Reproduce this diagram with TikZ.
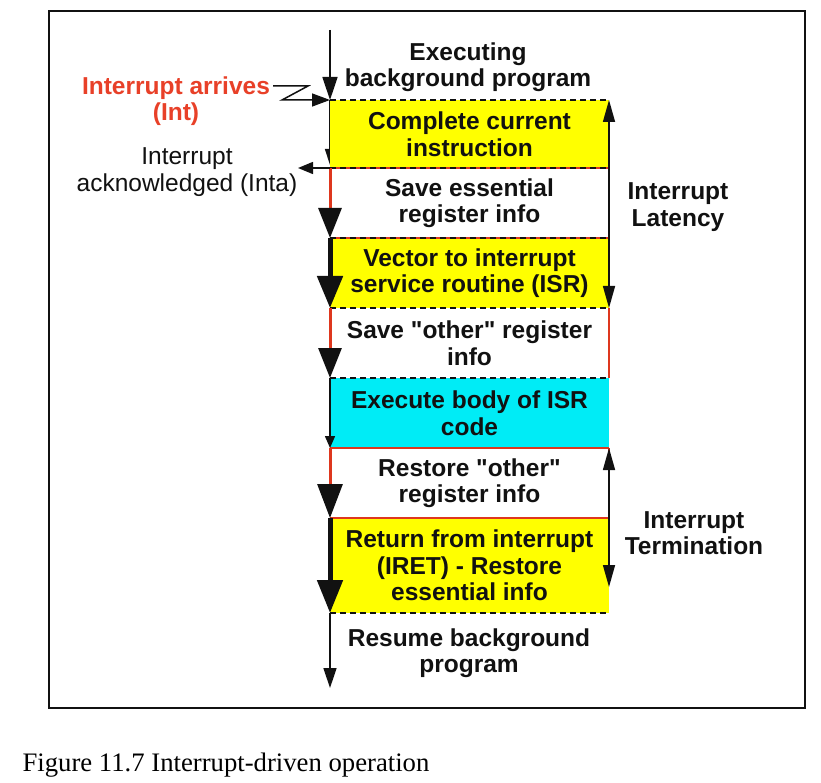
\documentclass[tikz,border=0pt]{standalone}
\usepackage{fontspec}
\setmainfont{Liberation Sans}
\newfontfamily\capfont{Liberation Serif}
\usetikzlibrary{arrows.meta}
\definecolor{myyellow}{RGB}{255,255,0}
\definecolor{mycyan}{RGB}{0,236,246}
\definecolor{myred}{RGB}{222,55,30}
\definecolor{txtred}{RGB}{232,64,40}
\definecolor{ink}{RGB}{17,17,17}
\pgfdeclarelayer{bg}
\pgfsetlayers{bg,main}
\begin{document}
\begin{tikzpicture}[x=1pt,y=-1pt,
  lbl/.style={font=\fontsize{24.5}{26.5}\selectfont\bfseries, align=center, text=ink, inner sep=0pt},
  plainlbl/.style={font=\fontsize{24.5}{26.5}\selectfont, align=center, text=ink, inner sep=0pt},
  box/.style={lbl, minimum width=279pt, outer sep=0pt},
  dline/.style={line width=2pt, dash pattern=on 6pt off 4pt, ink},
  rline/.style={line width=2pt, myred},
  thin/.style={line width=1.5pt, ink},
  redarr/.style={line width=3pt, myred},
  thickarr/.style={line width=5pt, ink},
]
\useasboundingbox (0,0) rectangle (821,783);
\draw[line width=2pt, ink] (49,11) rectangle (805,708);

% boxes
\node[box, fill=myyellow, minimum height=68pt]  (b1) at (469.5,134) {Complete current\\instruction};
\node[box, minimum height=70pt]                 (b2) at (469.5,203) {Save essential\\register info};
\node[box, fill=myyellow, minimum height=70pt]  (b3) at (469.5,273) {Vector to interrupt\\service routine (ISR)};
\node[box, minimum height=70pt]                 (b4) at (469.5,343) {Save \textquotedbl other\textquotedbl{} register\\info};
\node[box, fill=mycyan, minimum height=70pt]    (b5) at (469.5,413) {Execute body of ISR\\code};
\node[box, minimum height=70pt]                 (b6) at (469.5,483) {Restore \textquotedbl other\textquotedbl\\register info};
\node[box, fill=myyellow, minimum height=95pt]  (b7) at (469.5,565.5) {Return from interrupt\\(IRET) - Restore\\essential info};

% hidden small arrow behind first box
\coordinate (s1end) at (330,165);
\begin{pgfonlayer}{bg}
\draw[thin, -{Triangle[length=16pt,width=10pt]}] (b1.north west) -- (s1end);
\end{pgfonlayer}

% texts
\node[lbl] (exec) at (468,67) {Executing\\background program};
\node[lbl] (resume) at (469,653) {Resume background\\program};
\node[lbl] (lat) at (678,207) {Interrupt\\Latency};
\node[lbl] (term) at (694,533) {Interrupt\\Termination};
\node[lbl, text=txtred] (int) at (176,101) {Interrupt arrives\\(Int)};
\node[plainlbl] (inta) at (187,172) {Interrupt\\acknowledged (Inta)};
\node[font=\capfont\fontsize{26.7}{30}\selectfont, text=black, inner sep=0pt] (cap) at (226,765) {Figure 11.7 Interrupt-driven operation};

% borders
\draw[dline] (b1.north west) -- (b1.north east);
\draw[rline] (b1.south west) -- (b1.south east);
\draw[dline] (b1.south west) -- (b1.south east);
\draw[rline] (b2.south west) -- (b2.south east);
\draw[dline] (b2.south west) -- (b2.south east);
\draw[dline] (b3.south west) -- (b3.south east);
\draw[rline] (b4.north east) -- (b4.south east);
\draw[dline] (b4.south west) -- (b4.south east);
\draw[rline] (b5.south west) -- (b5.south east);
\draw[rline] (b6.north east) -- (b6.south east);
\draw[rline] (b6.south west) -- (b6.south east);
\draw[dline] (b7.south west) -- (b7.south east);

% left flow arrows
\coordinate (start) at (330,30);
\coordinate (finish) at (330,688);
\draw[thin, -{Triangle[length=23pt,width=15pt]}] (start) -- (b1.north west);
\draw[redarr, -{Triangle[length=30pt,width=23pt,color=ink]}] (b2.north west) -- (b2.south west);
\draw[thickarr, -{Triangle[length=32pt,width=25pt]}] (b3.north west) -- (b3.south west);
\draw[redarr, -{Triangle[length=30pt,width=23pt,color=ink]}] (b4.north west) -- (b4.south west);
\draw[thin, -{Triangle[length=12pt,width=10pt]}] (b5.north west) -- (b5.south west);
\draw[redarr, -{Triangle[length=34pt,width=25pt,color=ink]}] (b6.north west) -- (b6.south west);
\draw[thickarr, -{Triangle[length=33pt,width=25pt]}] (b7.north west) -- (b7.south west);
\draw[thin, -{Triangle[length=20pt,width=13pt]}] (b7.south west) -- (finish);

% right interval arrows
\coordinate (tend) at (609,587);
\draw[thin, {Triangle[length=22pt,width=12pt]}-{Triangle[length=22pt,width=12pt]}] (b3.south east) -- (b1.north east);
\draw[thin, {Triangle[length=22pt,width=12pt]}-{Triangle[length=22pt,width=12pt]}] (tend) -- (b6.north east);

% interrupt arrives zigzag
\coordinate (z1) at (273,86);
\coordinate (z2) at (308,86);
\coordinate (z3) at (282,100);
\draw[thin, -{Triangle[length=18pt,width=13pt]}] (z1) -- (z2) -- (z3) -- (b1.north west);

% interrupt acknowledged
\coordinate (ackend) at (298,168);
\draw[thin, -{Triangle[length=15pt,width=12pt]}] (b1.south west) -- (ackend);
\end{tikzpicture}
\end{document}
